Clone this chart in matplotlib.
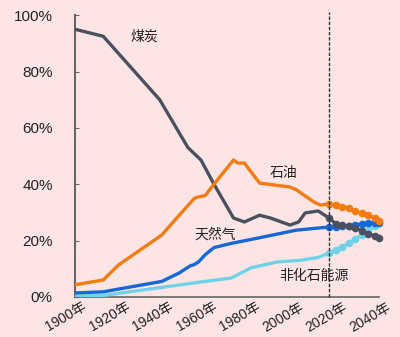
import matplotlib
matplotlib.use("Agg")
import matplotlib.pyplot as plt
from matplotlib.ticker import PercentFormatter

plt.rcParams["font.family"] = ["Liberation Sans", "Noto Sans CJK SC", "DejaVu Sans"]

# ---- historical shares (fraction of primary energy) ----
coal_years = [1900, 1913, 1939, 1952, 1958, 1964, 1973, 1978, 1985, 1990, 1999, 2003, 2006, 2012, 2017]
coal_vals = [0.95, 0.925, 0.70, 0.53, 0.486, 0.40, 0.28, 0.266, 0.29, 0.28, 0.255, 0.266, 0.298, 0.305, 0.28]

oil_years = [1900, 1913, 1920, 1940, 1948, 1955, 1957, 1960, 1964, 1973, 1975, 1978, 1985, 1992, 1999, 2002, 2010, 2013, 2017]
oil_vals = [0.043, 0.06, 0.113, 0.22, 0.29, 0.35, 0.355, 0.36, 0.40, 0.486, 0.475, 0.475, 0.404, 0.397, 0.39, 0.38, 0.337, 0.326, 0.33]

gas_years = [1900, 1913, 1918, 1940, 1948, 1953, 1955, 1957, 1960, 1964, 1972, 1985, 2002, 2017]
gas_vals = [0.014, 0.018, 0.025, 0.055, 0.085, 0.11, 0.115, 0.125, 0.15, 0.175, 0.19, 0.21, 0.237, 0.248]

nonfossil_years = [1900, 1913, 1958, 1972, 1981, 1993, 2004, 2012, 2017]
nonfossil_vals = [0.003, 0.005, 0.053, 0.067, 0.103, 0.124, 0.13, 0.14, 0.156]

# ---- projections after 2017 ----
proj_years = [2017, 2020, 2023, 2026, 2029, 2032, 2035, 2038, 2040]
coal_proj = [0.28, 0.26, 0.255, 0.25, 0.245, 0.235, 0.225, 0.215, 0.21]
oil_proj = [0.33, 0.325, 0.32, 0.315, 0.305, 0.297, 0.29, 0.28, 0.27]
gas_proj = [0.248, 0.247, 0.25, 0.252, 0.255, 0.258, 0.261, 0.263, 0.263]
nonfossil_proj = [0.156, 0.167, 0.177, 0.19, 0.205, 0.22, 0.237, 0.252, 0.266]

x_ticks = [1900, 1920, 1940, 1960, 1980, 2000, 2020, 2040]
x_ticklabels = [f"{y}年" for y in x_ticks]
cut_year = 2017

c_coal = "#4a505e"
c_oil = "#f07c12"
c_gas = "#1668d4"
c_nf = "#70d2e8"
bg = "#fde5e6"

fig = plt.figure(figsize=(4.0, 3.37), dpi=100, facecolor=bg)
ax = fig.add_axes([0.1875, 0.119, 0.76, 0.836], facecolor=bg)

lw = 2.4
for yrs, vals, py, pv, c in [
    (nonfossil_years, nonfossil_vals, proj_years, nonfossil_proj, c_nf),
    (gas_years, gas_vals, proj_years, gas_proj, c_gas),
    (coal_years, coal_vals, proj_years, coal_proj, c_coal),
    (oil_years, oil_vals, proj_years, oil_proj, c_oil),
]:
    ax.plot(yrs, vals, color=c, lw=lw, solid_capstyle="round", zorder=3)
    ax.plot(py, pv, color=c, lw=lw, marker="o", markersize=5.5,
            markeredgewidth=0, clip_on=False, zorder=3)

ax.axvline(cut_year, ymin=0, ymax=1.01, color="#333333", lw=1.0,
           ls=(0, (2.5, 1.2)), zorder=4, clip_on=False)

ax.set_xlim(1900, 2040)
ax.set_ylim(0, 1.0)
ax.yaxis.set_major_formatter(PercentFormatter(1.0, decimals=0))
ax.set_yticks([0, 0.2, 0.4, 0.6, 0.8, 1.0])
ax.set_xticks(x_ticks)
ax.set_xticklabels([])
# rotated year labels, shifted right of their tick like the original
for yr, lab in zip(x_ticks, x_ticklabels):
    ax.annotate(lab, xy=(yr, 0), xycoords=("data", "axes fraction"),
                xytext=(5, -2), textcoords="offset points",
                rotation=30, ha="right", va="top", rotation_mode="anchor",
                fontsize=10, color="#222222", annotation_clip=False)

for s in ["top", "right"]:
    ax.spines[s].set_visible(False)
ax.spines["left"].set_color("#666666")
ax.spines["bottom"].set_color("#666666")
ax.spines["left"].set_linewidth(1.5)
ax.spines["bottom"].set_linewidth(1.2)
ax.tick_params(axis="y", direction="in", length=3, color="#666666",
               pad=16, labelsize=11, labelcolor="#222222")
ax.tick_params(axis="x", length=0)

tkw = dict(fontsize=10, color="#222222", ha="center", va="center")
ax.text(1932, 0.925, "煤炭", **tkw)
ax.text(1996, 0.44, "石油", **tkw)
ax.text(1964.5, 0.22, "天然气", **tkw)
ax.text(2010, 0.075, "非化石能源", **tkw)

fig.savefig("out.png", dpi=100, facecolor=bg)
